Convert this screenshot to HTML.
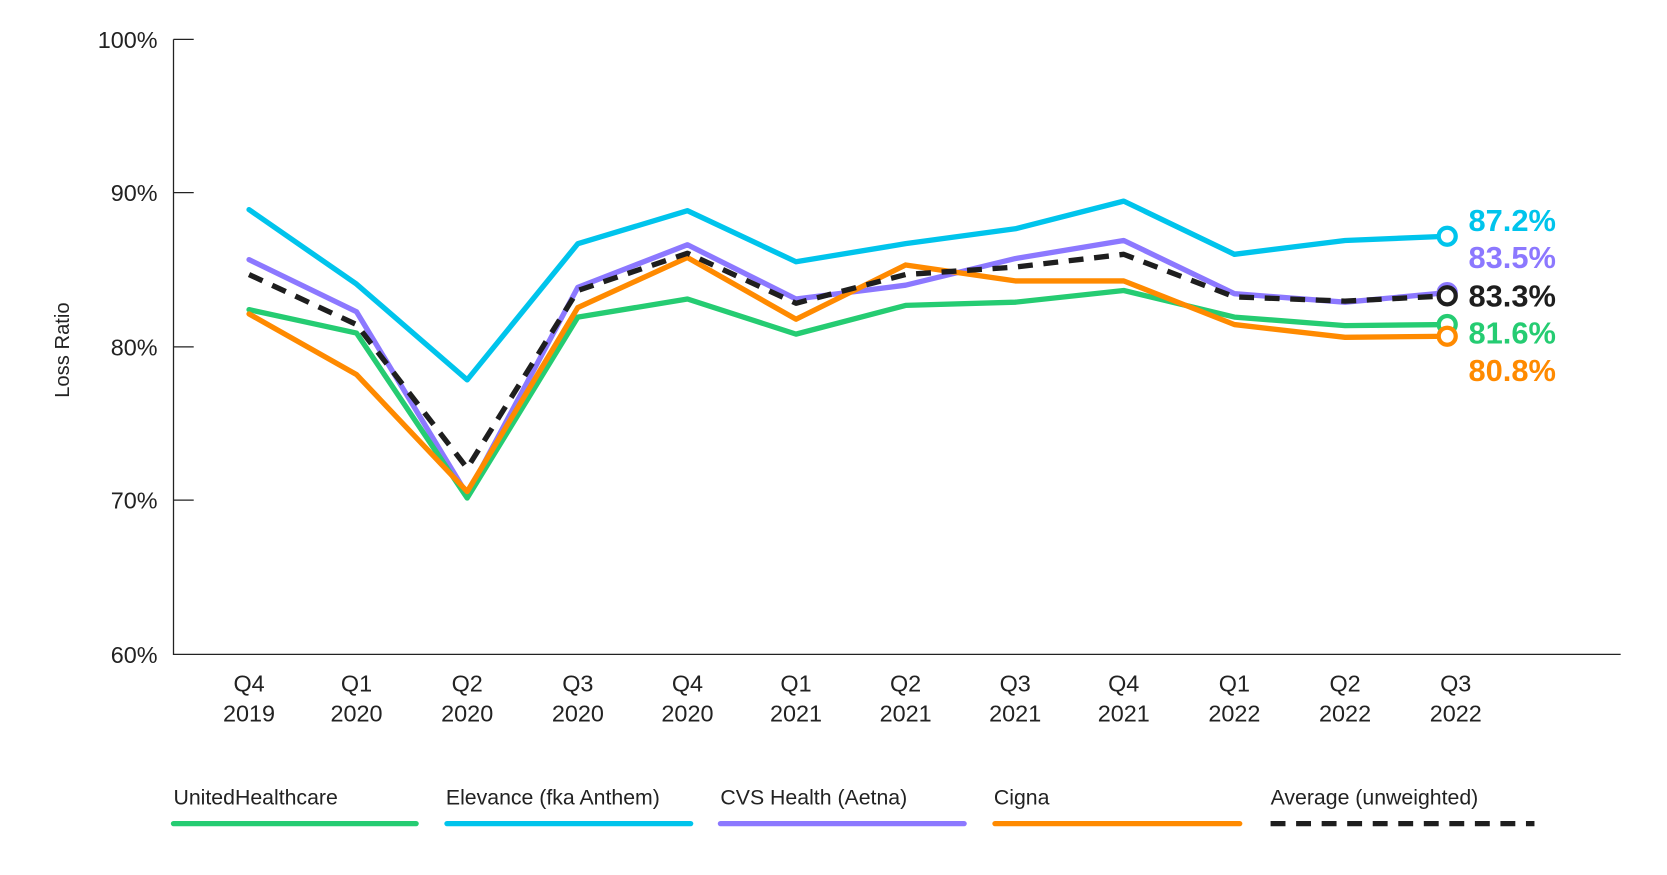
<!DOCTYPE html>
<html><head><meta charset="utf-8"><style>
html,body{margin:0;padding:0;background:#fff;}
svg{display:block;font-family:"Liberation Sans","DejaVu Sans",sans-serif;}
</style></head><body>
<svg width="1667" height="875" viewBox="0 0 1566.5 822.3" xmlns="http://www.w3.org/2000/svg">
<g stroke="#222" stroke-width="1.2" fill="none">
<path d="M163,37 V615 H1523"/>
<path d="M163,37 H182 M163,181 H182 M163,326 H182 M163,470 H182"/>
</g>
<g font-size="22" fill="#222" text-anchor="end">
<text x="148" y="45">100%</text>
<text x="148" y="189">90%</text>
<text x="148" y="334">80%</text>
<text x="148" y="478">70%</text>
<text x="148" y="623">60%</text>
</g>
<text transform="translate(65,329) rotate(-90)" font-size="19" fill="#222" text-anchor="middle">Loss Ratio</text>
<g font-size="22" fill="#222" text-anchor="middle">
<text x="234" y="650">Q4</text><text x="234" y="678">2019</text>
<text x="335" y="650">Q1</text><text x="335" y="678">2020</text>
<text x="439" y="650">Q2</text><text x="439" y="678">2020</text>
<text x="543" y="650">Q3</text><text x="543" y="678">2020</text>
<text x="646" y="650">Q4</text><text x="646" y="678">2020</text>
<text x="748" y="650">Q1</text><text x="748" y="678">2021</text>
<text x="851" y="650">Q2</text><text x="851" y="678">2021</text>
<text x="954" y="650">Q3</text><text x="954" y="678">2021</text>
<text x="1056" y="650">Q4</text><text x="1056" y="678">2021</text>
<text x="1160" y="650">Q1</text><text x="1160" y="678">2022</text>
<text x="1264" y="650">Q2</text><text x="1264" y="678">2022</text>
<text x="1368" y="650">Q3</text><text x="1368" y="678">2022</text>
</g>
<g fill="none" stroke-width="5" stroke-linejoin="round" stroke-linecap="round">
<polyline stroke="#00c4ec" points="234,197 335,267 439,357 543,229 646,198 748,246 851,229 954,215 1056,189 1160,239 1264,226 1360,222"/>
<polyline stroke="#8c78ff" points="234,244 335,293 439,465 543,270 646,230 748,281 851,268 954,243 1056,226 1160,276 1264,284 1360,275"/>
<polyline stroke="#25cc72" points="234,291 335,313 439,468 543,298 646,281 748,314 851,287 954,284 1056,273 1160,298 1264,306 1360,305"/>
<polyline stroke="#ff8a00" points="234,295 335,352 439,462 543,289 646,242 748,300 851,249 954,264 1056,264 1160,305 1264,317 1360,316"/>
<polyline stroke="#1e1e1e" stroke-dasharray="14,10" stroke-linecap="butt" points="234,258 335,305 439,440 543,273 646,238 748,285 851,258 954,251 1056,239 1160,279 1264,283 1360,278"/>
</g>
<g fill="#fff" stroke-width="4">
<circle cx="1360" cy="222" r="8" stroke="#00c4ec"/>
<circle cx="1360" cy="275" r="8" stroke="#8c78ff"/>
<circle cx="1360" cy="305" r="8" stroke="#25cc72"/>
<circle cx="1360" cy="316" r="8" stroke="#ff8a00"/>
<circle cx="1360" cy="278" r="8" stroke="#1e1e1e"/>
</g>
<g font-size="29" font-weight="bold">
<text x="1380" y="217" fill="#00c4ec">87.2%</text>
<text x="1380" y="252" fill="#8c78ff">83.5%</text>
<text x="1380" y="288" fill="#1e1e1e">83.3%</text>
<text x="1380" y="323" fill="#25cc72">81.6%</text>
<text x="1380" y="358" fill="#ff8a00">80.8%</text>
</g>
<g font-size="20" fill="#222">
<text x="163" y="756">UnitedHealthcare</text>
<text x="419" y="756">Elevance (fka Anthem)</text>
<text x="677" y="756">CVS Health (Aetna)</text>
<text x="934" y="756">Cigna</text>
<text x="1194" y="756">Average (unweighted)</text>
</g>
<g stroke-width="5" stroke-linecap="round">
<line x1="163" y1="774" x2="391" y2="774" stroke="#25cc72"/>
<line x1="420" y1="774" x2="649" y2="774" stroke="#00c4ec"/>
<line x1="677" y1="774" x2="906" y2="774" stroke="#8c78ff"/>
<line x1="935" y1="774" x2="1165" y2="774" stroke="#ff8a00"/>
<line x1="1194" y1="774" x2="1442" y2="774" stroke="#1e1e1e" stroke-dasharray="14,10" stroke-linecap="butt"/>
</g>
</svg>
</body></html>
